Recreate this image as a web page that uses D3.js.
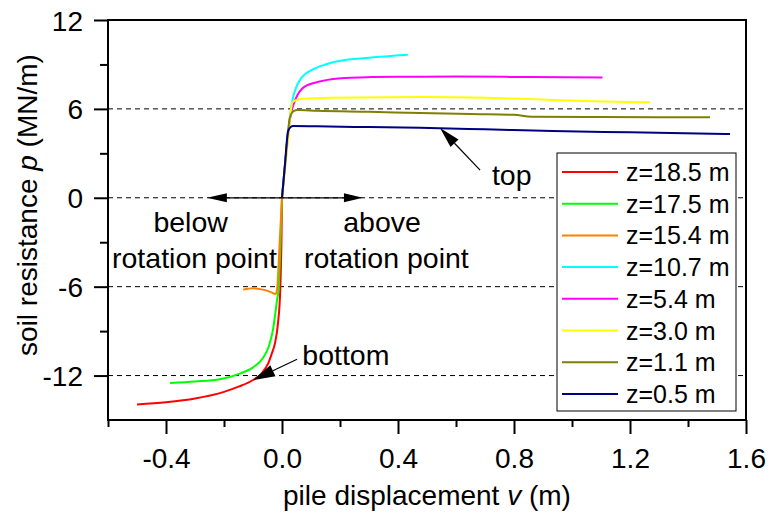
<!DOCTYPE html>
<html>
<head>
<meta charset="utf-8">
<script src="https://cdn.jsdelivr.net/npm/d3@7/dist/d3.min.js"></script>
<style>
  html, body { margin: 0; padding: 0; background: #fff; }
  svg { display: block; font-family: "Liberation Sans", Arial, sans-serif; }
</style>
</head>
<body>
<svg id="chart" width="771" height="517"></svg>
<script>
// p–v curves at several depths along the pile: [displacement v (m), soil resistance p (MN/m)]
const z185 = [[-0.5,-13.95],[-0.4,-13.8],[-0.3,-13.55],[-0.2,-13.1],[-0.15,-12.75],[-0.1,-12.3],[-0.07,-11.85],[-0.048,-11.2],[-0.035,-10.5],[-0.024,-9.8],[-0.014,-8.5],[-0.006,-6.2],[-0.002,-3.0],[0,0]];
const z175 = [[-0.386,-12.5],[-0.3,-12.4],[-0.214,-12.25],[-0.15,-11.9],[-0.1,-11.45],[-0.065,-10.8],[-0.045,-10.0],[-0.031,-8.9],[-0.017,-6.9],[-0.012,-6.2],[-0.005,-3.0],[0,0]];
const z154 = [[-0.134,-6.2],[-0.1,-6.1],[-0.066,-6.2],[-0.04,-6.35],[-0.022,-6.5],[-0.017,-6.2],[-0.008,-3.0],[0,0]];
const z107 = [[0,0],[0.007,1.5],[0.014,3.0],[0.024,4.9],[0.034,6.4],[0.05,7.5],[0.069,8.15],[0.1,8.6],[0.15,9.0],[0.2,9.25],[0.3,9.45],[0.434,9.65]];
const z54  = [[0,0],[0.012,2.4],[0.02,4.0],[0.027,5.24],[0.038,6.2],[0.05,6.8],[0.078,7.5],[0.13,7.85],[0.234,8.1],[0.4,8.17],[0.6,8.18],[0.855,8.15],[1.105,8.12]];
const z30  = [[0,0],[0.012,2.2],[0.022,4.2],[0.03,5.8],[0.036,6.45],[0.05,6.6],[0.07,6.68],[0.173,6.75],[0.476,6.8],[0.7,6.75],[0.855,6.66],[0.934,6.6],[1.1,6.5],[1.27,6.45]];
const z11  = [[0,0],[0.01,2.2],[0.02,4.3],[0.027,5.4],[0.04,5.85],[0.054,5.92],[0.12,5.87],[0.3,5.8],[0.476,5.72],[0.65,5.65],[0.8,5.6],[0.86,5.47],[1.1,5.45],[1.476,5.44]];
const z05  = [[0,0],[0.01,2.2],[0.021,4.5],[0.03,4.78],[0.038,4.84],[0.12,4.82],[0.3,4.77],[0.476,4.72],[0.7,4.62],[0.934,4.5],[1.2,4.42],[1.545,4.3]];

const seriesNames  = ["z=18.5 m","z=17.5 m","z=15.4 m","z=10.7 m","z=5.4 m","z=3.0 m","z=1.1 m","z=0.5 m"];
const seriesData   = [z185, z175, z154, z107, z54, z30, z11, z05];
const seriesColors = ["#ff0000","#00ff00","#ff8000","#00ffff","#ff00ff","#ffff00","#808000","#000080"];

const xTicks = [-0.4, 0.0, 0.4, 0.8, 1.2, 1.6];
const xMinor = [-0.6, -0.2, 0.2, 0.6, 1.0, 1.4];
const yTicks = [-12, -6, 0, 6, 12];
const yMinor = [-9, -3, 3, 9];
const gridValues = [-12, -6, 0, 6];

const svg = d3.select("#chart");
const m = { left: 108, right: 746, top: 20, bottom: 420 };

const x = d3.scaleLinear().domain([-0.6, 1.6]).range([m.left, m.right]);
const y = d3.scaleLinear().domain([-15, 12]).range([m.bottom, m.top]);

const hyphen = s => s.replace("\u2212", "-");

// dashed reference lines
svg.append("g").selectAll("line").data(gridValues).join("line")
  .attr("x1", m.left).attr("x2", m.right)
  .attr("y1", d => y(d)).attr("y2", d => y(d))
  .attr("stroke", "#000").attr("stroke-width", 1).attr("stroke-dasharray", "5,4");

// curves
const line = d3.line().x(d => x(d[0])).y(d => y(d[1])).curve(d3.curveMonotoneX);
svg.append("g").selectAll("path").data(seriesData).join("path")
  .attr("d", line)
  .attr("fill", "none")
  .attr("stroke", (d, i) => seriesColors[i])
  .attr("stroke-width", 2)
  .attr("stroke-linejoin", "round");

// frame
svg.append("rect")
  .attr("x", m.left).attr("y", m.top)
  .attr("width", m.right - m.left).attr("height", m.bottom - m.top)
  .attr("fill", "none").attr("stroke", "#000").attr("stroke-width", 2);

// axes
const tickFont = 28;
const xAxis = svg.append("g").attr("transform", `translate(0,${m.bottom})`)
  .call(d3.axisBottom(x).tickValues(xTicks).tickSize(14).tickSizeOuter(0)
    .tickFormat(d => hyphen(d3.format(".1f")(d))));
xAxis.select(".domain").remove();
xAxis.selectAll(".tick line").attr("stroke-width", 2);
xAxis.selectAll(".tick text").attr("font-size", tickFont).attr("font-family", "Liberation Sans, Arial, sans-serif")
  .attr("dy", 0).attr("y", 48).attr("fill", "#000");
svg.append("g").attr("transform", `translate(0,${m.bottom})`)
  .call(d3.axisBottom(x).tickValues(xMinor).tickSize(7).tickFormat(""))
  .call(g => g.select(".domain").remove())
  .selectAll(".tick line").attr("stroke-width", 2);

const yAxis = svg.append("g").attr("transform", `translate(${m.left},0)`)
  .call(d3.axisLeft(y).tickValues(yTicks).tickSize(14).tickSizeOuter(0)
    .tickFormat(d => hyphen(d3.format("d")(d))));
yAxis.select(".domain").remove();
yAxis.selectAll(".tick line").attr("stroke-width", 2);
yAxis.selectAll(".tick text").attr("font-size", tickFont).attr("font-family", "Liberation Sans, Arial, sans-serif")
  .attr("x", -25).attr("dy", "0.36em").attr("fill", "#000");
svg.append("g").attr("transform", `translate(${m.left},0)`)
  .call(d3.axisLeft(y).tickValues(yMinor).tickSize(8).tickFormat(""))
  .call(g => g.select(".domain").remove())
  .selectAll(".tick line").attr("stroke-width", 2);

// axis titles
const titleFont = 28;
const xt = svg.append("text").attr("x", (m.left + m.right) / 2).attr("y", 505)
  .attr("text-anchor", "middle").attr("font-size", titleFont).attr("fill", "#000");
xt.append("tspan").text("pile displacement ");
xt.append("tspan").attr("font-style", "italic").text("v");
xt.append("tspan").text(" (m)");

const yt = svg.append("text").attr("transform", "translate(37,205) rotate(-90)")
  .attr("text-anchor", "middle").attr("font-size", titleFont).attr("fill", "#000");
yt.append("tspan").text("soil resistance ");
yt.append("tspan").attr("font-style", "italic").text("p");
yt.append("tspan").text(" (MN/m)");

// annotation arrows
function arrow(x1, y1, x2, y2, headLen, headHalf) {
  const X1 = x(x1), Y1 = y(y1), X2 = x(x2), Y2 = y(y2);
  const a = Math.atan2(Y2 - Y1, X2 - X1);
  const bx = X2 - headLen * Math.cos(a), by = Y2 - headLen * Math.sin(a);
  svg.append("line").attr("x1", X1).attr("y1", Y1).attr("x2", bx).attr("y2", by)
    .attr("stroke", "#000").attr("stroke-width", 1.2);
  const px = -Math.sin(a) * headHalf, py = Math.cos(a) * headHalf;
  svg.append("path")
    .attr("d", `M${X2},${Y2}L${bx + px},${by + py}L${bx - px},${by - py}Z`)
    .attr("fill", "#000");
}
arrow(0, 0, -0.259, 0, 20, 4.5);
arrow(0, 0, 0.279, 0, 19, 4.5);
arrow(0.683, 1.87, 0.545, 4.71, 21, 5.5);
arrow(0.052, -10.9, -0.1, -12.31, 22, 6);

// annotation text
const ann = [
  { t: "below", v: -0.315, p: -2.33, a: "middle" },
  { t: "rotation point", v: -0.302, p: -4.77, a: "middle" },
  { t: "above", v: 0.345, p: -2.33, a: "middle" },
  { t: "rotation point", v: 0.36, p: -4.77, a: "middle" },
  { t: "top", v: 0.724, p: 0.86, a: "start" },
  { t: "bottom", v: 0.07, p: -11.3, a: "start" }
];
svg.append("g").selectAll("text").data(ann).join("text")
  .attr("x", d => x(d.v)).attr("y", d => y(d.p))
  .attr("text-anchor", d => d.a).attr("font-size", 28.5).attr("fill", "#000")
  .text(d => d.t);

// legend
const lg = svg.append("g");
lg.append("rect").attr("x", 557).attr("y", 153).attr("width", 179).attr("height", 258)
  .attr("fill", "#fff").attr("stroke", "#000").attr("stroke-width", 1);
const rows = lg.selectAll("g").data(seriesNames).join("g")
  .attr("transform", (d, i) => `translate(0,${172 + i * 31.7})`);
rows.append("line").attr("x1", 562).attr("x2", 618).attr("y1", 0).attr("y2", 0)
  .attr("stroke", (d, i) => seriesColors[i]).attr("stroke-width", 2);
rows.append("text").attr("x", 626).attr("y", 9).attr("font-size", 25).attr("fill", "#000")
  .text(d => d);
</script>
</body>
</html>
